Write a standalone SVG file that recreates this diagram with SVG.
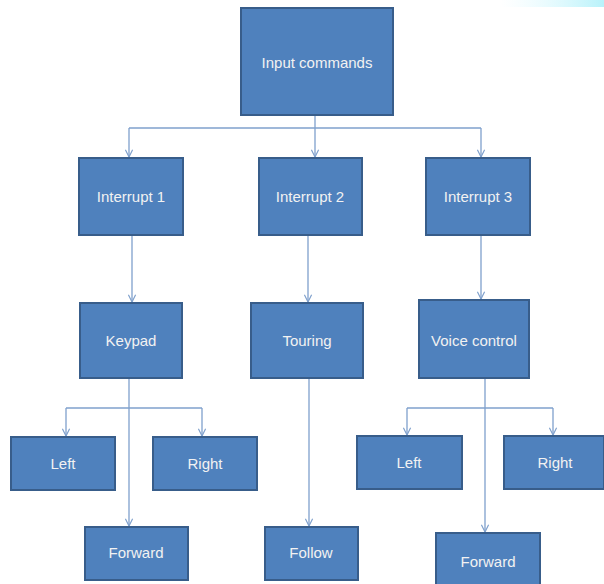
<svg xmlns="http://www.w3.org/2000/svg" width="604" height="584" viewBox="0 0 604 584">
<defs>
<style>
.box{fill:#4F81BD;stroke:#385D8A;stroke-width:2}
.lbl{font-family:"Liberation Sans",Arial,sans-serif;font-size:15px;fill:#F2F2F2;text-anchor:middle;dominant-baseline:central}
.con{fill:none;stroke:#7FA0CC;stroke-width:1.3}
</style>
<marker id="arr" viewBox="0 0 10 10" refX="9" refY="5" markerWidth="9" markerHeight="9" markerUnits="userSpaceOnUse" orient="auto">
<path d="M1,1 L9,5 L1,9" fill="none" stroke="#7FA0CC" stroke-width="1.3"/>
</marker>
<linearGradient id="glow" x1="0" y1="0" x2="1" y2="0">
<stop offset="0" stop-color="#E0FAFF" stop-opacity="0"/>
<stop offset="1" stop-color="#B8F2FA"/>
</linearGradient>
</defs>
<rect x="0" y="0" width="604" height="584" fill="#FFFFFF"/>
<rect x="500" y="0" width="104" height="7" fill="url(#glow)"/>
<g id="connectors">
<path class="con" d="M315,115 V128"/>
<path class="con" d="M315,128 V157" marker-end="url(#arr)"/>
<path class="con" d="M129,128 H481"/>
<path class="con" d="M129,128 V157" marker-end="url(#arr)"/>
<path class="con" d="M481,128 V157" marker-end="url(#arr)"/>
<path class="con" d="M132,235 V302" marker-end="url(#arr)"/>
<path class="con" d="M308,235 V302" marker-end="url(#arr)"/>
<path class="con" d="M481,235 V299" marker-end="url(#arr)"/>
<path class="con" d="M129,378 V526" marker-end="url(#arr)"/>
<path class="con" d="M66,408 H202"/>
<path class="con" d="M66,408 V436" marker-end="url(#arr)"/>
<path class="con" d="M202,408 V436" marker-end="url(#arr)"/>
<path class="con" d="M309,378 V526" marker-end="url(#arr)"/>
<path class="con" d="M485,378 V532" marker-end="url(#arr)"/>
<path class="con" d="M407,408 H553"/>
<path class="con" d="M407,408 V435" marker-end="url(#arr)"/>
<path class="con" d="M553,408 V435" marker-end="url(#arr)"/>
</g>
<g id="input"><rect class="box" x="241" y="8" width="152" height="107"/><text class="lbl" x="317" y="62">Input commands</text></g>
<g id="int1"><rect class="box" x="79" y="158" width="104" height="77"/><text class="lbl" x="131" y="196">Interrupt 1</text></g>
<g id="int2"><rect class="box" x="259" y="158" width="103" height="77"/><text class="lbl" x="310" y="196">Interrupt 2</text></g>
<g id="int3"><rect class="box" x="426" y="158" width="104" height="77"/><text class="lbl" x="478" y="196">Interrupt 3</text></g>
<g id="keypad"><rect class="box" x="80" y="303" width="102" height="75"/><text class="lbl" x="131" y="340">Keypad</text></g>
<g id="touring"><rect class="box" x="251" y="303" width="112" height="75"/><text class="lbl" x="307" y="340">Touring</text></g>
<g id="voice"><rect class="box" x="419" y="300" width="110" height="78"/><text class="lbl" x="474" y="340">Voice control</text></g>
<g id="left1"><rect class="box" x="11" y="437" width="104" height="53"/><text class="lbl" x="63" y="463">Left</text></g>
<g id="right1"><rect class="box" x="153" y="437" width="104" height="53"/><text class="lbl" x="205" y="463">Right</text></g>
<g id="left2"><rect class="box" x="357" y="436" width="105" height="53"/><text class="lbl" x="409" y="462">Left</text></g>
<g id="right2"><rect class="box" x="504" y="436" width="100" height="53"/><text class="lbl" x="555" y="462">Right</text></g>
<g id="forward1"><rect class="box" x="85" y="527" width="103" height="53"/><text class="lbl" x="136" y="552">Forward</text></g>
<g id="follow"><rect class="box" x="265" y="527" width="93" height="53"/><text class="lbl" x="311" y="552">Follow</text></g>
<g id="forward2"><rect class="box" x="436" y="533" width="104" height="54"/><text class="lbl" x="488" y="561">Forward</text></g>
</svg>
